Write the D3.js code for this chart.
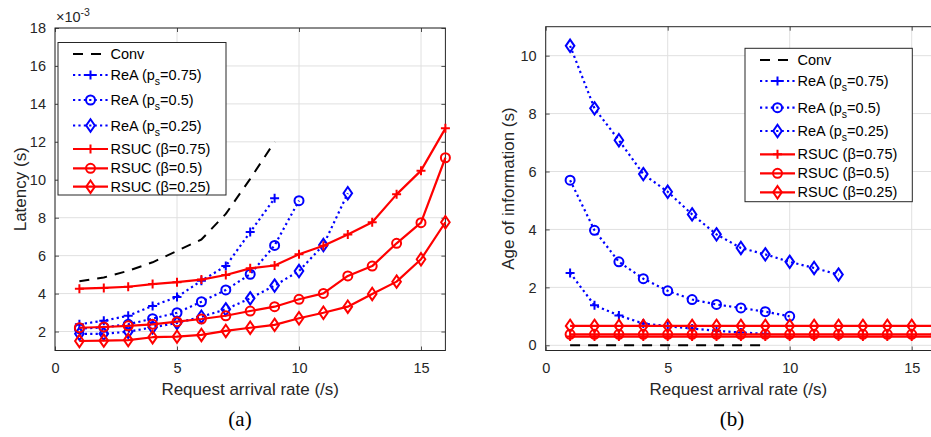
<!DOCTYPE html>
<html>
<head>
<meta charset="utf-8">
<script src="https://cdn.jsdelivr.net/npm/d3@7"></script>
<style>
  html, body { margin: 0; padding: 0; background: #fff; }
  svg { display: block; font-family: "Liberation Sans", Arial, Helvetica, sans-serif; }
</style>
</head>
<body>
<svg id="chart" width="931" height="437"></svg>
<script>
// Request arrival rates (/s)
const rates = [1, 2, 3, 4, 5, 6, 7, 8, 9, 10, 11, 12, 13, 14, 15, 16];

// (a) Latency, in units of 1e-3 s
const latConv   = [4.65, 4.85, 5.2, 5.65, 6.25, 6.85, 8.2, 10.05, 12.0];
const latReA75  = [2.38, 2.57, 2.83, 3.35, 3.82, 4.68, 5.45, 7.24, 9.02];
const latReA50  = [2.15, 2.22, 2.38, 2.68, 2.99, 3.57, 4.19, 5.02, 6.54, 8.9];
const latReA25  = [1.88, 1.88, 1.99, 2.22, 2.45, 2.78, 3.17, 3.75, 4.42, 5.19, 6.56, 9.29];
const latRsuc75 = [4.26, 4.3, 4.36, 4.5, 4.6, 4.74, 4.98, 5.33, 5.48, 6.07, 6.52, 7.12, 7.76, 9.23, 10.48, 12.71];
const latRsuc50 = [2.2, 2.24, 2.3, 2.38, 2.52, 2.66, 2.83, 3.08, 3.31, 3.7, 4.01, 4.93, 5.45, 6.65, 7.74, 11.16];
const latRsuc25 = [1.5, 1.52, 1.55, 1.7, 1.73, 1.82, 2.03, 2.2, 2.35, 2.7, 2.99, 3.31, 3.98, 4.63, 5.81, 7.76];

// (b) Age of information (s)
const aoiConv   = [0, 0, 0, 0, 0, 0, 0, 0, 0];
const aoiReA75  = [2.5, 1.38, 1.03, 0.75, 0.66, 0.58, 0.5, 0.44, 0.4];
const aoiReA50  = [5.7, 3.97, 2.88, 2.3, 1.88, 1.58, 1.41, 1.29, 1.16, 1.0];
const aoiReA25  = [10.34, 8.18, 7.08, 5.91, 5.3, 4.52, 3.83, 3.36, 3.14, 2.88, 2.67, 2.44];
const aoiRsuc75 = [0.3, 0.3, 0.3, 0.3, 0.3, 0.3, 0.3, 0.3, 0.3, 0.3, 0.3, 0.3, 0.3, 0.3, 0.3, 0.3];
const aoiRsuc50 = [0.38, 0.38, 0.38, 0.38, 0.38, 0.38, 0.38, 0.38, 0.38, 0.38, 0.38, 0.38, 0.38, 0.38, 0.38, 0.38];
const aoiRsuc25 = [0.67, 0.67, 0.67, 0.67, 0.67, 0.67, 0.67, 0.67, 0.67, 0.67, 0.67, 0.67, 0.67, 0.67, 0.67, 0.67];

// Tick labels
const xTicks = [0, 5, 10, 15];
const latTicks = [2, 4, 6, 8, 10, 12, 14, 16, 18];
const aoiTicks = [0, 2, 4, 6, 8, 10];

// Legend entries
const legendNames = [
  ["Conv"],
  ["ReA (p", "s", "=0.75)"],
  ["ReA (p", "s", "=0.5)"],
  ["ReA (p", "s", "=0.25)"],
  ["RSUC (\u03b2=0.75)"],
  ["RSUC (\u03b2=0.5)"],
  ["RSUC (\u03b2=0.25)"]
];

const BLUE = "#0000ff", RED = "#ff0000", AXIS = "#262626", GRID = "#e0e0e0";

const styles = [
  { color: "#000", dash: "10,8", marker: null, width: 2 },
  { color: BLUE, dash: "2.2,3.2", marker: "plus", width: 2.2 },
  { color: BLUE, dash: "2.2,3.2", marker: "circle", width: 2.2 },
  { color: BLUE, dash: "2.2,3.2", marker: "diamond", width: 2.2 },
  { color: RED, dash: null, marker: "plus", width: 2.2 },
  { color: RED, dash: null, marker: "circle", width: 2.2 },
  { color: RED, dash: null, marker: "diamond", width: 2.2 }
];

const svg = d3.select("#chart");

function drawMarker(g, type, color, x, y) {
  if (type === "plus") {
    g.append("path").attr("d", `M${x - 4.5},${y}H${x + 4.5}M${x},${y - 4.5}V${y + 4.5}`)
      .attr("stroke", color).attr("stroke-width", 2).attr("fill", "none");
  } else if (type === "circle") {
    g.append("circle").attr("cx", x).attr("cy", y).attr("r", 4.5)
      .attr("stroke", color).attr("stroke-width", 2).attr("fill", "none");
  } else if (type === "diamond") {
    g.append("path").attr("d", `M${x},${y - 6.2}L${x + 4.3},${y}L${x},${y + 6.2}L${x - 4.3},${y}Z`)
      .attr("stroke", color).attr("stroke-width", 2).attr("fill", "none");
  }
}

function drawPanel(p) {
  const x = d3.scaleLinear().domain([0, 16]).range([p.left, p.right]);
  const y = d3.scaleLinear().domain(p.yDomain).range([p.bottom, p.top]);
  const g = svg.append("g");

  // grid
  g.append("g").selectAll("line").data(xTicks).join("line")
    .attr("x1", d => x(d)).attr("x2", d => x(d)).attr("y1", p.top).attr("y2", p.bottom)
    .attr("stroke", GRID).attr("stroke-width", 1);
  g.append("g").selectAll("line").data(p.yTicks).join("line")
    .attr("x1", p.left).attr("x2", p.right).attr("y1", d => y(d)).attr("y2", d => y(d))
    .attr("stroke", GRID).attr("stroke-width", 1);

  // axes with inward ticks on all sides
  const tick = 4;
  const bottomAxis = d3.axisBottom(x).tickValues(xTicks).tickSizeInner(-tick).tickSizeOuter(0).tickPadding(10);
  const leftAxis = d3.axisLeft(y).tickValues(p.yTicks).tickSizeInner(-tick).tickSizeOuter(0).tickPadding(p.yPad);
  const ax = g.append("g").attr("transform", `translate(0,${p.bottom})`).call(bottomAxis);
  const ay = g.append("g").attr("transform", `translate(${p.left},0)`).call(leftAxis);
  g.append("g").attr("transform", `translate(0,${p.top})`)
    .call(d3.axisTop(x).tickValues(xTicks).tickSizeInner(-tick).tickSizeOuter(0).tickFormat(""));
  g.append("g").attr("transform", `translate(${p.right},0)`)
    .call(d3.axisRight(y).tickValues(p.yTicks).tickSizeInner(-tick).tickSizeOuter(0).tickFormat(""));
  g.selectAll(".domain").remove();
  g.selectAll(".tick line").attr("stroke", AXIS).attr("stroke-width", 0.8);
  [ax, ay].forEach(a => a.selectAll("text").attr("fill", AXIS).attr("font-size", "14.5px")
    .attr("font-family", "'Liberation Sans', Arial, sans-serif"));
  ax.selectAll("text").attr("dy", null).attr("y", 22);

  // box
  g.append("rect").attr("x", p.left).attr("y", p.top)
    .attr("width", p.right - p.left).attr("height", p.bottom - p.top)
    .attr("fill", "none").attr("stroke", AXIS).attr("stroke-width", 1);

  // series
  const line = d3.line().x((d, i) => x(rates[i])).y(d => y(d));
  const plot = g.append("g");
  p.series.forEach((vals, k) => {
    const s = styles[k];
    plot.append("path").datum(vals).attr("d", line)
      .attr("fill", "none").attr("stroke", s.color).attr("stroke-width", s.width)
      .attr("stroke-dasharray", s.dash).attr("stroke-linejoin", "round");
    if (s.marker) {
      const mg = plot.append("g");
      vals.forEach((v, i) => drawMarker(mg, s.marker, s.color, x(rates[i]), y(v)));
    }
  });

  // axis labels
  g.append("text").attr("x", (p.left + Math.min(p.right, 931)) / 2 + p.xLabelShift).attr("y", 395)
    .attr("text-anchor", "middle").attr("font-size", "17px").attr("fill", AXIS)
    .text("Request arrival rate (/s)");
  g.append("text").attr("transform", `translate(${p.yLabelX},${(p.top + p.bottom) / 2}) rotate(-90)`)
    .attr("text-anchor", "middle").attr("font-size", "17px").attr("fill", AXIS)
    .text(p.yLabel);
  g.append("text").attr("x", p.capX).attr("y", 426).attr("text-anchor", "middle")
    .attr("font-family", "'Liberation Serif', 'DejaVu Serif', serif").attr("font-size", "21px")
    .attr("fill", "#000").text(p.caption);

  // legend
  const L = p.legend;
  const lg = g.append("g");
  lg.append("rect").attr("x", L.x).attr("y", L.y).attr("width", L.w).attr("height", L.h)
    .attr("fill", "#fff").attr("stroke", AXIS).attr("stroke-width", 1);
  legendNames.forEach((name, k) => {
    const s = styles[k];
    const cy = L.rows[k];
    lg.append("line").attr("x1", L.sx).attr("x2", L.sx + 35).attr("y1", cy).attr("y2", cy)
      .attr("stroke", s.color).attr("stroke-width", s.width).attr("stroke-dasharray", s.dash);
    if (s.marker) drawMarker(lg, s.marker, s.color, L.sx + 17.5, cy);
    const t = lg.append("text").attr("x", L.sx + 37.5).attr("y", cy + 5)
      .attr("font-size", "14.5px").attr("fill", "#000");
    t.append("tspan").text(name[0]);
    if (name.length > 1) {
      t.append("tspan").attr("font-size", "10.5px").attr("dy", 5).text(name[1]);
      t.append("tspan").attr("dy", -5).text(name[2]);
    }
  });
}

// (a) Latency
drawPanel({
  left: 55, right: 445.4, top: 28, bottom: 350.5,
  yDomain: [1, 18], yTicks: latTicks, yPad: 9,
  series: [latConv, latReA75, latReA50, latReA25, latRsuc75, latRsuc50, latRsuc25],
  yLabel: "Latency (s)", yLabelX: 26, xLabelShift: 0,
  caption: "(a)", capX: 240,
  legend: { x: 58, y: 42.5, w: 168, h: 152.5, sx: 73, rows: [54, 75, 100, 125.5, 149, 168.3, 186.7] }
});
// exponent label for the latency axis
const ex = svg.append("text").attr("x", 56).attr("y", 22).attr("font-size", "14.5px").attr("fill", AXIS);
ex.append("tspan").text("\u00d710");
ex.append("tspan").attr("font-size", "10.5px").attr("dy", -6).text("-3");

// (b) Age of information
drawPanel({
  left: 545.7, right: 936.1, top: 26.7, bottom: 350.5,
  yDomain: [-0.18, 11], yTicks: aoiTicks, yPad: 9,
  series: [aoiConv, aoiReA75, aoiReA50, aoiReA25, aoiRsuc75, aoiRsuc50, aoiRsuc25],
  yLabel: "Age of information (s)", yLabelX: 514, xLabelShift: 0,
  caption: "(b)", capX: 732,
  legend: { x: 745, y: 48.3, w: 167.3, h: 153.4, sx: 760, rows: [60, 81, 107.7, 131, 154.3, 173.3, 192.3] }
});
</script>
</body>
</html>
